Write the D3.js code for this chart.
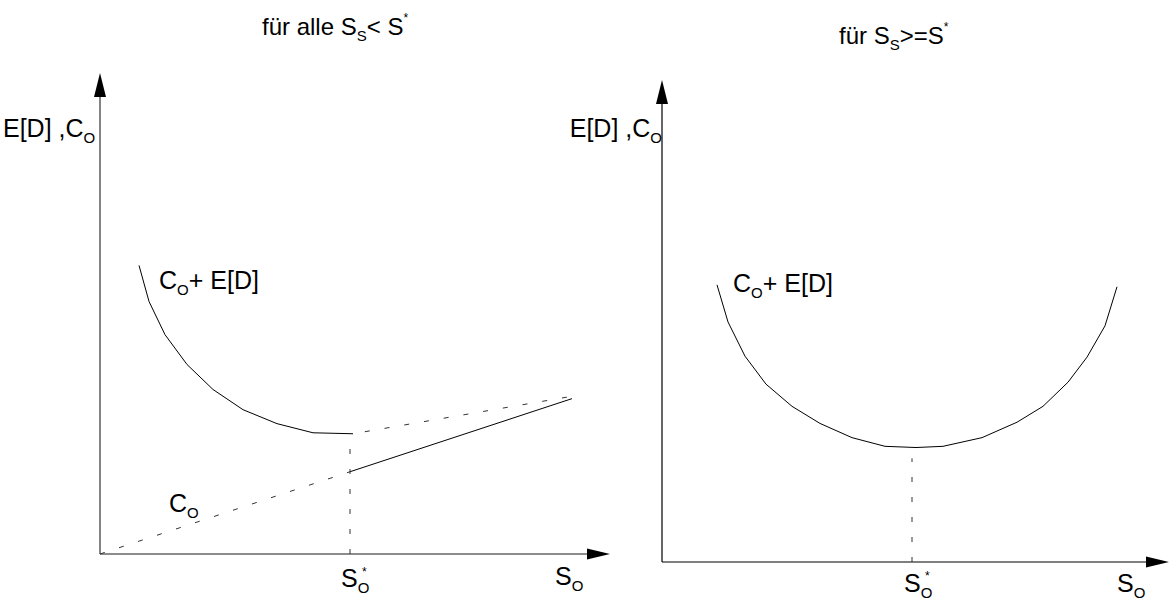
<!DOCTYPE html>
<html>
<head>
<meta charset="utf-8">
<script src="https://cdn.jsdelivr.net/npm/d3@7"></script>
<style>
  body { margin: 0; background: #fff; }
  text { font-family: "Liberation Sans", Arial, sans-serif; fill: #000; }
</style>
</head>
<body>
<div id="chart"></div>
<script>
// optimum S_O (same on both panels)
var sStar = 50;

// left panel: S_S < S*
var leftCurveS    = [7.8, 9.8, 13, 17.4, 22.6, 28.6, 35.4, 42.6, 50.6];
var leftCurveCost = [60, 52.5, 45.6, 39.4, 34.2, 30, 27.1, 25.2, 25];
var leftCoS       = [0, 50, 94.4];
var leftCoCost    = [0, 17.1, 32.3];
var leftUpperS    = [50.6, 95];
var leftUpperCost = [25, 32.9];

// right panel: S_S >= S*
var rightCurveS    = [11, 13.2, 16.6, 20.8, 26, 31.6, 38, 44.6, 50.8, 56.2, 64, 71, 76.2, 81.2, 85, 88.6, 91];
var rightCurveCost = [57.5, 49.8, 42.7, 36.9, 32.3, 28.75, 25.8, 24, 23.75, 24, 25.8, 29, 32.3, 37.3, 42.5, 49, 57.1];

var width = 1169, height = 600;
var fontSize = 25;

var svg = d3.select("#chart").append("svg")
    .attr("width", width)
    .attr("height", height);

var line = d3.line()
    .x(function (d) { return d.xs; })
    .y(function (d) { return d.ys; });

function zip(xs, ys, x, y) {
    return xs.map(function (v, i) { return {xs: x(v), ys: y(ys[i])}; });
}

// text made of pieces: [string, "sub" | "sup" | undefined]
function label(g, px, py, parts, size, anchor) {
    var t = g.append("text")
        .attr("x", px)
        .attr("y", py)
        .attr("text-anchor", anchor || "start")
        .style("font-size", size + "px");
    var shift = 0;
    parts.forEach(function (p) {
        var dy = 0, fs = size;
        if (p[1] == "sub") { dy = 6; fs = 15; }
        if (p[1] == "sup") { dy = -13; fs = 12; }
        t.append("tspan")
            .attr("dy", dy - shift)
            .style("font-size", fs + "px")
            .text(p[0]);
        shift = dy;
    });
    return t;
}

function axes(g, x, y, cfg) {
    var x0 = x(0), y0 = y(0);
    var xt = x(cfg.xTip), yt = y(cfg.yTip);
    g.append("line")
        .attr("x1", x0).attr("y1", y0)
        .attr("x2", xt - 20).attr("y2", y0)
        .attr("stroke", cfg.axisColor).attr("stroke-width", cfg.axisWidth);
    g.append("line")
        .attr("x1", x0).attr("y1", y0)
        .attr("x2", x0).attr("y2", yt + 20)
        .attr("stroke", cfg.axisColor).attr("stroke-width", cfg.axisWidth);
    g.append("path")
        .attr("d", "M" + xt + "," + y0 + "L" + (xt - 23) + "," + (y0 - 5.5) + "L" + (xt - 23) + "," + (y0 + 5.5) + "Z")
        .attr("fill", "#000");
    g.append("path")
        .attr("d", "M" + x0 + "," + yt + "L" + (x0 - 6) + "," + (yt + 24) + "L" + (x0 + 6) + "," + (yt + 24) + "Z")
        .attr("fill", "#000");
}

// ---------- left panel ----------
var xL = d3.scaleLinear().domain([0, 100]).range([100, 600]);
var yL = d3.scaleLinear().domain([0, 100]).range([554, 73]);
var gL = svg.append("g");

axes(gL, xL, yL, {xTip: 102, yTip: 100, axisColor: "#666", axisWidth: 1.6});

gL.append("path")
    .attr("d", line(zip(leftCurveS, leftCurveCost, xL, yL)))
    .attr("fill", "none").attr("stroke", "#000").attr("stroke-width", 1);

// C_O: dotted up to S*, solid after it
gL.append("path")
    .attr("d", line(zip(leftCoS.slice(0, 2), leftCoCost.slice(0, 2), xL, yL)))
    .attr("fill", "none").attr("stroke", "#333").attr("stroke-width", 1)
    .attr("stroke-dasharray", "5,15");
gL.append("path")
    .attr("d", line(zip(leftCoS.slice(1), leftCoCost.slice(1), xL, yL)))
    .attr("fill", "none").attr("stroke", "#000").attr("stroke-width", 1);

gL.append("path")
    .attr("d", line(zip(leftUpperS, leftUpperCost, xL, yL)))
    .attr("fill", "none").attr("stroke", "#333").attr("stroke-width", 1)
    .attr("stroke-dasharray", "5,15")
    .attr("stroke-dashoffset", -12);

gL.append("line")
    .attr("x1", xL(sStar)).attr("y1", yL(0))
    .attr("x2", xL(sStar)).attr("y2", yL(24.5))
    .attr("stroke", "#333").attr("stroke-width", 1)
    .attr("stroke-dasharray", "5,15");

label(gL, 262, 35, [["für alle S"], ["S", "sub"], ["< S"], ["*", "sup"]], 24);
label(gL, 3, 137, [["E[D] ,C"], ["O", "sub"]], fontSize);
label(gL, xL(11.8), yL(55), [["C"], ["O", "sub"], ["+ E[D]"]], fontSize);
label(gL, xL(13.8), yL(8.7), [["C"], ["O", "sub"]], fontSize);
label(gL, xL(sStar) - 9, yL(0) + 33, [["S"], ["O", "sub"]], fontSize);
label(gL, xL(sStar) + 12, yL(0) + 22, [["*"]], 12);
label(gL, xL(91), yL(0) + 31, [["S"], ["O", "sub"]], fontSize);

// ---------- right panel ----------
var xR = d3.scaleLinear().domain([0, 100]).range([662, 1162]);
var yR = d3.scaleLinear().domain([0, 100]).range([562, 80]);
var gR = svg.append("g");

axes(gR, xR, yR, {xTip: 101.4, yTip: 100, axisColor: "#000", axisWidth: 1.2});

gR.append("path")
    .attr("d", line(zip(rightCurveS, rightCurveCost, xR, yR)))
    .attr("fill", "none").attr("stroke", "#000").attr("stroke-width", 1);

gR.append("line")
    .attr("x1", xR(sStar)).attr("y1", yR(0))
    .attr("x2", xR(sStar)).attr("y2", yR(21.5))
    .attr("stroke", "#333").attr("stroke-width", 1)
    .attr("stroke-dasharray", "5,15");

label(gR, 839, 44, [["für S"], ["S", "sub"], [">=S"], ["*", "sup"]], 24);
label(gR, xR(0), 137, [["E[D] ,C"], ["O", "sub"]], fontSize, "end");
label(gR, xR(14.2), yR(56), [["C"], ["O", "sub"], ["+ E[D]"]], fontSize);
label(gR, xR(sStar) - 8, yR(0) + 30, [["S"], ["O", "sub"]], fontSize);
label(gR, xR(sStar) + 13, yR(0) + 18, [["*"]], 12);
label(gR, xR(91), yR(0) + 30, [["S"], ["O", "sub"]], fontSize);
</script>
</body>
</html>
